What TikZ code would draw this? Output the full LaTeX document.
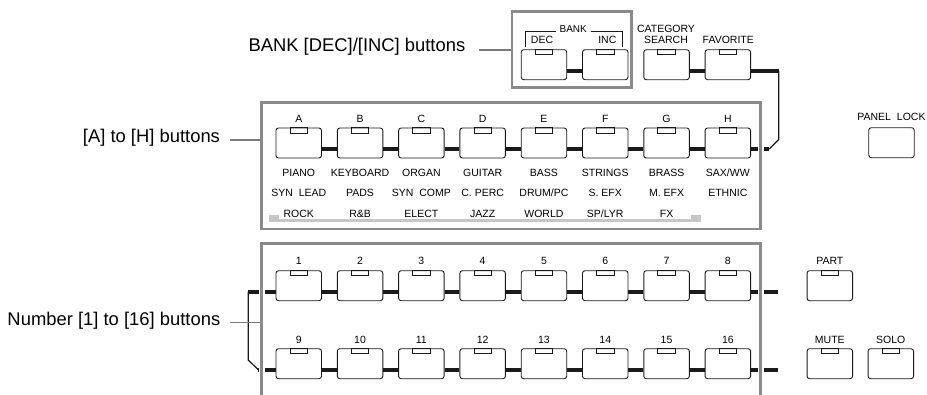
\documentclass[tikz,border=0pt]{standalone}
\usepackage{fontspec}
\setmainfont{Liberation Sans}
\usetikzlibrary{calc}
\definecolor{boxgray}{HTML}{8A8A8A}
\definecolor{leadgray}{HTML}{7A7A7A}
\definecolor{bargray}{HTML}{C6C6C6}
\definecolor{ink}{HTML}{1A1A1A}
\tikzset{
  btn/.style={draw=ink, line width=0.9pt, rounded corners=2.5pt, minimum width=45.5pt, minimum height=30pt, inner sep=0pt, fill=white},
  conn/.style={draw=ink, line width=4.3pt},
  thinln/.style={draw=ink, line width=1.2pt},
  grpbox/.style={draw=boxgray, line width=2.6pt, inner sep=0pt, preaction={draw=white, line width=5.6pt}},
  leader/.style={draw=leadgray, line width=1.4pt},
  small/.style={font=\fontsize{10.5}{12}\selectfont, inner sep=0pt, anchor=base},
  big/.style={font=\fontsize{18.4}{22}\selectfont, inner sep=0pt, anchor=base west},
  ledbox/.style={draw=ink, line width=0.8pt},
}
\newcommand{\ledon}[1]{\draw[ledbox] ([xshift=-8.7pt]#1.north) rectangle ([xshift=8.7pt,yshift=-5.5pt]#1.north);}
\begin{document}
\begin{tikzpicture}[x=1pt,y=-1pt]
\useasboundingbox (0,0) rectangle (927,394);

% ---- A to H row ----
\foreach \L [count=\k from 0] in {A,B,C,D,E,F,G,H}{
  \node[btn] (ah\k) at ({298.75+61.3*\k},143) {};
  \node[small] (ahl\k) at ({298.75+61.3*\k},122) {\L};
  \ledon{ah\k}
}
\foreach \T [count=\k from 0] in {PIANO,KEYBOARD,ORGAN,GUITAR,BASS,STRINGS,BRASS,SAX/WW}{
  \node[small] (ca\k) at ({298.75+61.3*\k},176.5) {\T};
}
\foreach \T [count=\k from 0] in {{SYN\hspace{3pt} LEAD},PADS,{SYN\hspace{3pt} COMP},{C. PERC},DRUM/PC,{S. EFX},{M. EFX},ETHNIC}{
  \node[small] (cb\k) at ({298.75+61.3*\k},196.8) {\T};
}
\foreach \T [count=\k from 0] in {ROCK,R\&B,ELECT,JAZZ,WORLD,SP/LYR,FX}{
  \node[small] (cc\k) at ({298.75+61.3*\k},217.6) {\T};
}
\foreach \k in {0,...,6}{
  \pgfmathtruncatemacro{\j}{\k+1}
  \draw[conn] ([yshift=-6pt]ah\k.east) -- ([yshift=-6pt]ah\j.west);
}
% gray bar under third row
\fill[bargray] (269,215) rectangle (279,222.3);
\fill[bargray] (690.7,215) rectangle (701,222.3);
\fill[bargray] (279,219.4) rectangle (690.7,222.3);

% ---- number rows ----
\foreach \k in {1,...,8}{
  \node[btn] (n\k) at ({298.75+61.3*(\k-1)},285.7) {};
  \node[small] (nl\k) at ({298.75+61.3*(\k-1)},264.5) {\k};
  \ledon{n\k}
}
\foreach \k in {9,...,16}{
  \node[btn] (n\k) at ({298.75+61.3*(\k-9)},363.7) {};
  \node[small] (nl\k) at ({298.75+61.3*(\k-9)},343) {\k};
  \ledon{n\k}
}
\foreach \k in {1,...,7,9,10,...,15}{
  \pgfmathtruncatemacro{\j}{\k+1}
  \draw[conn] ([yshift=-6pt]n\k.east) -- ([yshift=-6pt]n\j.west);
}
% left bracket
\coordinate (nbl) at (247.6,291.7);
\coordinate (nbd) at (248.2,360);
\coordinate (nbe) at (258.3,369.7);
\draw[conn] ([yshift=-6pt]n1.west) -- (nbl);
\draw[thinln] (248.2,291.7) -- (nbd) -- (nbe);
\draw[conn] (nbe) -- ([yshift=-6pt]n9.west);
% right free ends
\coordinate (nr1) at (778.3,291.7);
\coordinate (nr2) at (778.3,369.7);
\draw[conn] ([yshift=-6pt]n8.east) -- (nr1);
\draw[conn] ([yshift=-6pt]n16.east) -- (nr2);

% ---- bank / category / favorite ----
\node[btn] (dec) at (543.95,64.7) {};
\node[btn] (inc) at (605.25,64.7) {};
\node[btn] (cat) at (666.55,64.7) {};
\node[btn] (fav) at (727.85,64.7) {};
\foreach \b in {dec,inc,cat,fav}{\ledon{\b}}
\node[small] (decl) at (542,43.1) {DEC};
\node[small] (incl) at (607.3,43.1) {INC};
\node[small, font=\fontsize{10}{12}\selectfont] (bankl) at (573.2,32.7) {BANK};
\node[small] (catl1) at (666,32.1) {CATEGORY};
\node[small] (catl2) at (666,43.1) {SEARCH};
\node[small] (favl) at (728.3,43.1) {FAVORITE};
\draw[thinln, line width=0.9pt] (525.7,46.7) |- (555.5,31.7);
\draw[thinln, line width=0.9pt] (591,31.7) -| (622,46.7);
\draw[conn] ([yshift=-6pt]dec.east) -- ([yshift=-6pt]inc.west);
\draw[conn] ([yshift=-6pt]cat.east) -- ([yshift=-6pt]fav.west);
% favorite to H link
\coordinate (ft) at (779.3,70.7);
\coordinate (fv) at (778.7,70.7);
\coordinate (fd) at (778.7,139.5);
\coordinate (hb) at (769.2,149);
\draw[conn] ([yshift=-6pt]fav.east) -- (ft);
\draw[thinln] (fv) -- (fd) -- (hb);
\draw[conn] ([yshift=-6pt]ah7.east) -- (hb);

% ---- right side buttons ----
\node[btn] (plock) at (891.5,142.7) {};
\node[small] (plockl) at (891.5,120.5) {PANEL\hspace{3pt} LOCK};
\node[btn] (part) at (829.8,285.7) {};
\node[small] (partl) at (829.8,264.5) {PART};
\node[btn] (mute) at (829.8,363.7) {};
\node[small] (mutel) at (829.8,343) {MUTE};
\node[btn] (solo) at (890.8,363.7) {};
\node[small] (solol) at (890.8,343) {SOLO};
\foreach \b in {part,mute,solo}{\ledon{\b}}

% ---- group boxes ----
\node[grpbox, minimum width=119.7pt, minimum height=76.4pt] (bankbox) at (571.9,49.5) {};
\node[grpbox, minimum width=499pt, minimum height=126.3pt] (ahbox) at (511.2,165.9) {};
\node[grpbox, minimum width=499pt, minimum height=190pt] (numbox) at (511.2,338.3) {};

% ---- callouts ----
\node[big] (lbank) at (248.3,51.7) {BANK [DEC]/[INC] buttons};
\node[big] (lah) at (82.7,142.3) {[A] to [H] buttons};
\node[big] (lnum) at (7.3,325) {Number [1] to [16] buttons};
\coordinate (lb1) at (479.3,50);
\coordinate (la1) at (230,140);
\coordinate (ln1) at (230,322.3);
\draw[leader] (lb1) -- (lb1 -| bankbox.west);
\draw[leader] (la1) -- (la1 -| ahbox.west);
\draw[leader] (ln1) -- (ln1 -| numbox.west);
\end{tikzpicture}
\end{document}
